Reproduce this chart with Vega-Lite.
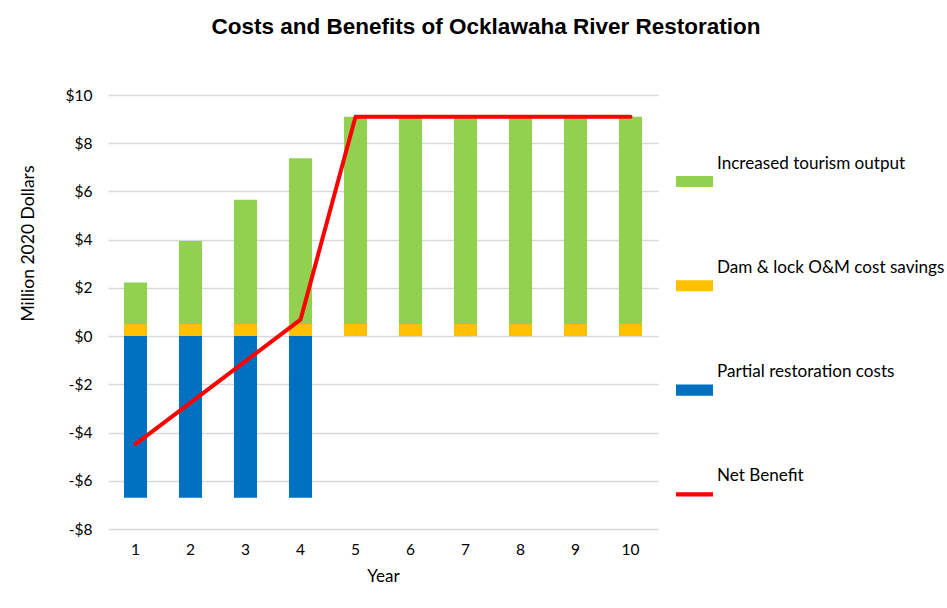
{
  "$schema": "https://vega.github.io/schema/vega-lite/v6.json",
  "width": 550,
  "height": 434,
  "autosize": {"type": "none"},
  "padding": {"left": 108, "top": 95, "right": 289, "bottom": 79},
  "background": "white",
  "title": {
    "text": "Costs and Benefits of Ocklawaha River Restoration",
    "font": "Liberation Sans",
    "fontSize": 22.5,
    "fontWeight": "bold",
    "color": "#000000",
    "anchor": "middle",
    "frame": "group",
    "dx": 103,
    "offset": 50
  },
  "data": {
    "values": [
      {"year": 1, "series": "Dam & lock O&M cost savings", "value": 0.5},
      {"year": 2, "series": "Dam & lock O&M cost savings", "value": 0.5},
      {"year": 3, "series": "Dam & lock O&M cost savings", "value": 0.5},
      {"year": 4, "series": "Dam & lock O&M cost savings", "value": 0.5},
      {"year": 5, "series": "Dam & lock O&M cost savings", "value": 0.5},
      {"year": 6, "series": "Dam & lock O&M cost savings", "value": 0.5},
      {"year": 7, "series": "Dam & lock O&M cost savings", "value": 0.5},
      {"year": 8, "series": "Dam & lock O&M cost savings", "value": 0.5},
      {"year": 9, "series": "Dam & lock O&M cost savings", "value": 0.5},
      {"year": 10, "series": "Dam & lock O&M cost savings", "value": 0.5},
      {"year": 1, "series": "Increased tourism output", "value": 1.72},
      {"year": 2, "series": "Increased tourism output", "value": 3.44},
      {"year": 3, "series": "Increased tourism output", "value": 5.16},
      {"year": 4, "series": "Increased tourism output", "value": 6.88},
      {"year": 5, "series": "Increased tourism output", "value": 8.6},
      {"year": 6, "series": "Increased tourism output", "value": 8.6},
      {"year": 7, "series": "Increased tourism output", "value": 8.6},
      {"year": 8, "series": "Increased tourism output", "value": 8.6},
      {"year": 9, "series": "Increased tourism output", "value": 8.6},
      {"year": 10, "series": "Increased tourism output", "value": 8.6},
      {"year": 1, "series": "Partial restoration costs", "value": -6.7},
      {"year": 2, "series": "Partial restoration costs", "value": -6.7},
      {"year": 3, "series": "Partial restoration costs", "value": -6.7},
      {"year": 4, "series": "Partial restoration costs", "value": -6.7},
      {"year": 1, "series": "Net Benefit", "value": -4.48},
      {"year": 2, "series": "Net Benefit", "value": -2.76},
      {"year": 3, "series": "Net Benefit", "value": -1.04},
      {"year": 4, "series": "Net Benefit", "value": 0.68},
      {"year": 5, "series": "Net Benefit", "value": 9.1},
      {"year": 6, "series": "Net Benefit", "value": 9.1},
      {"year": 7, "series": "Net Benefit", "value": 9.1},
      {"year": 8, "series": "Net Benefit", "value": 9.1},
      {"year": 9, "series": "Net Benefit", "value": 9.1},
      {"year": 10, "series": "Net Benefit", "value": 9.1}
    ]
  },
  "encoding": {
    "x": {
      "field": "year",
      "type": "ordinal",
      "scale": {"paddingInner": 0.58, "paddingOuter": 0.29},
      "axis": {
        "title": "Year",
        "labelAngle": 0,
        "domain": false,
        "ticks": false,
        "labelPadding": 13,
        "titlePadding": 11,
        "labelFont": "Lato",
        "labelFontSize": 15.5,
        "labelColor": "#000000",
        "titleFont": "Lato",
        "titleFontSize": 17,
        "titleFontWeight": "normal",
        "titleColor": "#000000"
      }
    },
    "y": {
      "field": "value",
      "type": "quantitative",
      "scale": {"domain": [-8, 10], "nice": false},
      "axis": {
        "title": "Million 2020 Dollars",
        "values": [-8, -6, -4, -2, 0, 2, 4, 6, 8, 10],
        "labelExpr": "datum.value < 0 ? '-$' + abs(datum.value) : '$' + datum.value",
        "domain": false,
        "ticks": false,
        "grid": true,
        "gridColor": "#D9D9D9",
        "gridWidth": 1.5,
        "labelPadding": 16,
        "labelFont": "Lato",
        "labelFontSize": 15.5,
        "labelColor": "#000000",
        "titleFont": "Lato",
        "titleFontSize": 17.5,
        "titleFontWeight": "normal",
        "titleColor": "#000000",
        "titleX": -71,
        "titleY": 148
      }
    },
    "color": {
      "field": "series",
      "type": "nominal",
      "scale": {
        "domain": ["Increased tourism output", "Dam & lock O&M cost savings", "Partial restoration costs", "Net Benefit"],
        "range": ["#92D050", "#FFC000", "#0070C0", "#FF0000"]
      },
      "legend": {
        "title": null,
        "orient": "none",
        "legendX": 568,
        "legendY": 68,
        "padding": 0,
        "symbolSize": 1369,
        "symbolOpacity": 1,
        "rowPadding": 70.3,
        "labelOffset": 4,
        "labelLimit": 0,
        "labelFont": "Lato",
        "labelFontSize": 17.1,
        "labelColor": "#000000",
        "labelBaseline": "alphabetic",
        "encode": {
          "symbols": {
            "update": {
              "shape": {"signal": "datum.value === 'Net Benefit' ? 'M-1,-0.11H1V0.11H-1Z' : 'M-1,-0.3H1V0.3H-1Z'"},
              "fill": {"signal": "datum.value === 'Net Benefit' ? '#FF0000' : datum.value === 'Increased tourism output' ? '#92D050' : datum.value === 'Partial restoration costs' ? '#0070C0' : '#FFC000'"},
              "strokeWidth": {"value": 0},
              "opacity": {"value": 1},
              "fillOpacity": {"value": 1}
            }
          },
          "labels": {
            "update": {"dy": {"value": -13}}
          }
        }
      }
    }
  },
  "layer": [
    {
      "transform": [{"filter": "datum.series !== 'Net Benefit'"}],
      "mark": {"type": "bar", "opacity": 1},
      "encoding": {
        "order": {"field": "series", "sort": "ascending"}
      }
    },
    {
      "transform": [{"filter": "datum.series === 'Net Benefit'"}],
      "mark": {"type": "line", "strokeWidth": 4, "strokeCap": "round", "strokeJoin": "round"},
      "encoding": {}
    }
  ],
  "config": {
    "view": {"stroke": null}
  }
}
